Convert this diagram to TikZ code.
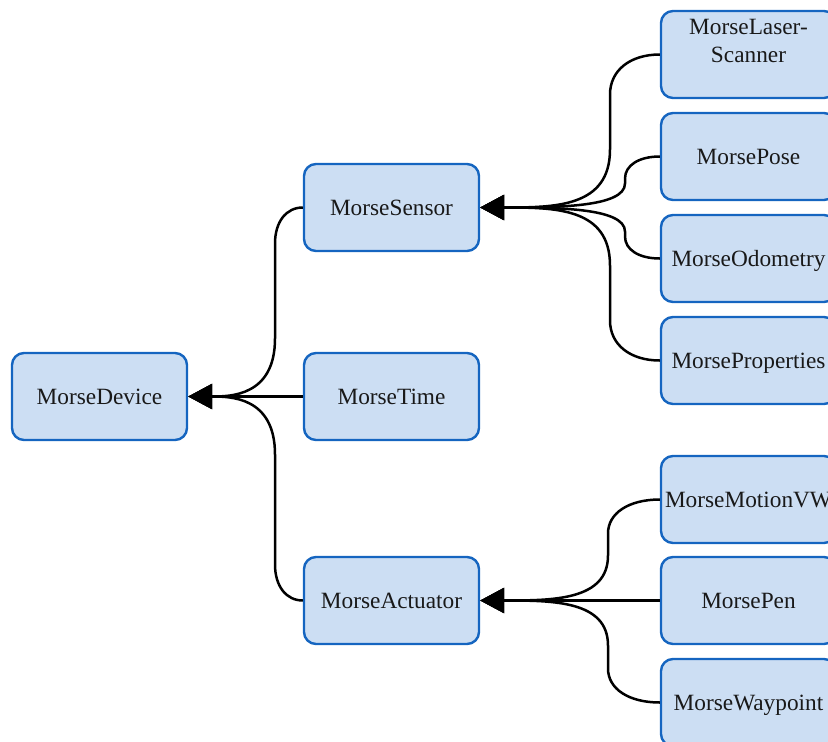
\documentclass[tikz,border=0pt]{standalone}
\usepackage{fontspec}
\setmainfont{Liberation Serif}
\usetikzlibrary{arrows.meta,calc}
\definecolor{boxfill}{RGB}{204,222,243}
\definecolor{boxline}{RGB}{21,101,192}
\tikzset{
  box/.style={draw=boxline, fill=boxfill, line width=2.4pt, rounded corners=12pt,
    minimum width=175pt, minimum height=87pt, inner sep=0pt, align=center,
    text height=16pt, text depth=0pt, font=\fontsize{23.3}{28}\selectfont, text=black!90},
  edge/.style={line width=2.5pt, -{Triangle[length=24pt,width=25pt]}},
}
% curved link: child, parent, bend x, direction (1 = down), first bend, last bend, tail length
\newcommand\linkcurve[7]{%
  \draw[edge] let \p1=(#1.west), \p2=(#2.east) in
    (\p1) .. controls ({#3pt+0.4*(\x1-#3pt)},\y1) and (#3pt,{\y1-(#4)*0.4*(#5pt)})
          .. (#3pt,{\y1-(#4)*(#5pt)})
    -- (#3pt,{\y2+(#4)*(#6pt)}) .. controls (#3pt,\y2) and ({#3pt-#7pt},\y2) .. (\p2);}
\begin{document}
\begin{tikzpicture}[x=1pt,y=1pt]
  \useasboundingbox (0,0) rectangle (828,-742);
  \clip (0,0) rectangle (828,-742);

  % tree nodes
  \node[box] (dev)    at (99.5,-396.5)  {MorseDevice};
  \node[box] (sensor) at (391.5,-207.5) {MorseSensor};
  \node[box] (time)   at (391.5,-396.5) {MorseTime};
  \node[box] (act)    at (391.5,-600.5) {MorseActuator};
  \node[box] (laser)  at (748.5,-54.5)  {MorseLaser-\\Scanner};
  \node[box] (pose)   at (748.5,-156.5) {MorsePose};
  \node[box] (odo)    at (748.5,-258.5) {MorseOdometry};
  \node[box] (prop)   at (748.5,-360.5) {MorseProperties};
  \node[box] (motion) at (748.5,-499.5) {MorseMotionVW};
  \node[box] (pen)    at (748.5,-600.5) {MorsePen};
  \node[box] (way)    at (748.5,-702.5) {MorseWaypoint};

  % links to MorseDevice
  \linkcurve{sensor}{dev}{275}{1}{36}{58}{45}
  \draw[edge] (time.west) -- (dev.east);
  \linkcurve{act}{dev}{275}{-1}{36}{58}{45}

  % links to MorseSensor
  \linkcurve{laser}{sensor}{610}{1}{40}{58}{55}
  \linkcurve{pose}{sensor}{625}{1}{22}{24}{70}
  \linkcurve{odo}{sensor}{625}{-1}{22}{24}{70}
  \linkcurve{prop}{sensor}{610}{-1}{40}{58}{55}

  % links to MorseActuator
  \linkcurve{motion}{act}{608}{1}{34}{45}{55}
  \draw[edge] (pen.west) -- (act.east);
  \linkcurve{way}{act}{608}{-1}{34}{45}{55}
\end{tikzpicture}
\end{document}
